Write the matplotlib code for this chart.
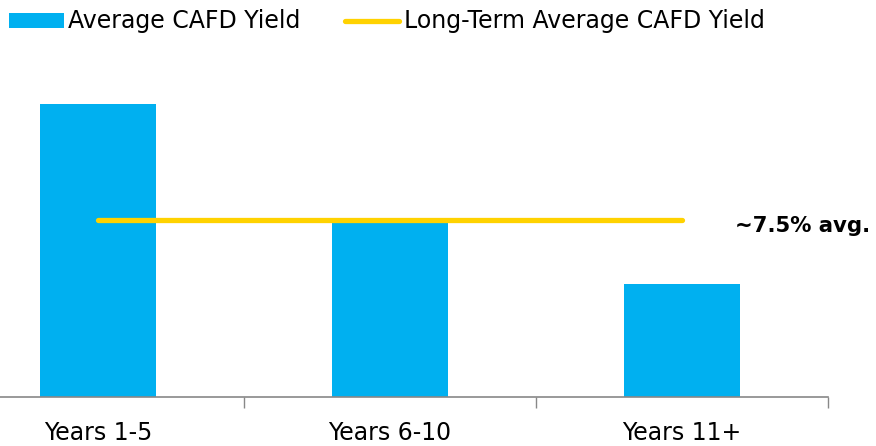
import matplotlib
matplotlib.use("Agg")
import matplotlib.pyplot as plt
from matplotlib.patches import Patch
from matplotlib.lines import Line2D

categories = ["Years 1-5", "Years 6-10", "Years 11+"]
cafd_yield = [12.4, 7.4, 4.8]
long_term_avg = 7.5
avg_label = "~7.5% avg."

bar_color = "#00B0F0"
line_color = "#FFD200"

fig = plt.figure(figsize=(8.76, 4.46), dpi=100)
ax = fig.add_axes([-48 / 876, 49 / 446, 876 / 876, 347 / 446])

x = range(len(categories))
ax.bar(x, cafd_yield, width=0.4, color=bar_color, zorder=2)
ax.plot([0, len(categories) - 1], [long_term_avg] * 2, color=line_color,
        lw=3.8, solid_capstyle="round", zorder=3)
ax.text(len(categories) - 1 + 0.18, long_term_avg - 0.25, avg_label, fontsize=15.3,
        fontweight="bold", va="center", ha="left", zorder=4)

ax.set_xlim(-0.5, len(categories) - 0.5)
ax.set_ylim(0, 14.7)
ax.set_xticks(list(x))
ax.set_xticklabels(categories, fontsize=17)
ax.set_xticks([0.5, 1.5, 2.5], minor=True)
ax.tick_params(axis="x", which="major", length=0, pad=17)
ax.tick_params(axis="x", which="minor", length=8, color="#888888", width=1)
ax.set_yticks([])
for s in ["top", "right", "left"]:
    ax.spines[s].set_visible(False)
ax.spines["bottom"].set_color("#888888")
ax.spines["bottom"].set_linewidth(1.2)

handles = [Patch(facecolor=bar_color, edgecolor="none"),
           Line2D([0], [0], color=line_color, lw=3.8, solid_capstyle="round")]
fig.legend(handles, ["Average CAFD Yield", "Long-Term Average CAFD Yield"],
           loc="upper left", bbox_to_anchor=(0.0, 1.0), ncol=2, frameon=False,
           fontsize=17, handlelength=2.3, handleheight=0.6, handletextpad=0.2,
           columnspacing=1.85, borderpad=0.1, borderaxespad=0.3)

fig.savefig("out.png", dpi=100)
